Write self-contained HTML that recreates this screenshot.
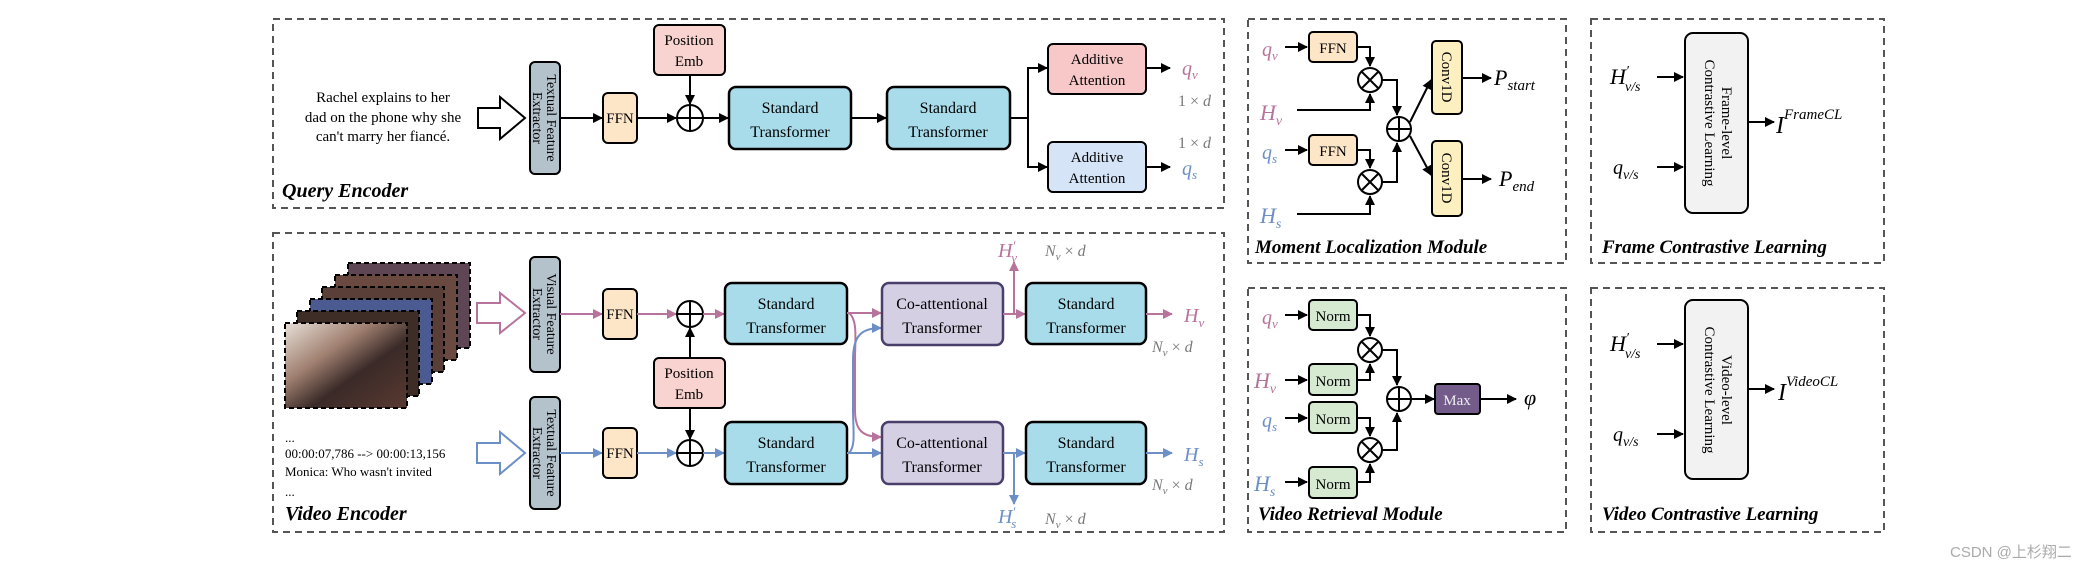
<!DOCTYPE html>
<html><head><meta charset="utf-8"><style>
html,body{margin:0;padding:0;background:#fff;}
svg{display:block;}
text{font-family:"Liberation Serif",serif;}
</style></head><body>
<svg width="2100" height="568" viewBox="0 0 2100 568" xmlns="http://www.w3.org/2000/svg">
<defs>
<marker id="ak" markerWidth="10" markerHeight="10" refX="9" refY="5" orient="auto" markerUnits="userSpaceOnUse"><path d="M0,0 L10,5 L0,10 z" fill="#000"/></marker>
<marker id="ap" markerWidth="10" markerHeight="10" refX="9" refY="5" orient="auto" markerUnits="userSpaceOnUse"><path d="M0,0 L10,5 L0,10 z" fill="#b7739b"/></marker>
<marker id="ab" markerWidth="10" markerHeight="10" refX="9" refY="5" orient="auto" markerUnits="userSpaceOnUse"><path d="M0,0 L10,5 L0,10 z" fill="#6c8fc6"/></marker>
<linearGradient id="fr" x1="0" y1="0" x2="1" y2="1"><stop offset="0" stop-color="#e8e0d8"/><stop offset="0.35" stop-color="#a08070"/><stop offset="0.6" stop-color="#3a2a28"/><stop offset="1" stop-color="#5a3a30"/></linearGradient>
</defs>

<g fill="none" stroke="#555" stroke-width="2" stroke-dasharray="7,5">
<rect x="273" y="19" width="951" height="189"/>
<rect x="273" y="233" width="951" height="299"/>
<rect x="1248" y="19" width="318" height="244"/>
<rect x="1591" y="19" width="293" height="244"/>
<rect x="1248" y="288" width="318" height="244"/>
<rect x="1591" y="288" width="293" height="244"/>
</g>

<!-- Query Encoder -->
<g font-size="15" text-anchor="middle">
<text x="383" y="102">Rachel explains to her</text>
<text x="383" y="122">dad on the phone why she</text>
<text x="383" y="141">can't marry her fiancé.</text>
</g>
<path d="M478,108 L500,108 L500,97 L525,118 L500,139 L500,128 L478,128 z" fill="#fff" stroke="#000" stroke-width="2"/>
<rect x="530" y="62" width="30" height="112" rx="5" fill="#b4c2cc" stroke="#000" stroke-width="2"/>
<text transform="translate(545,118) rotate(90)" font-size="14" text-anchor="middle"><tspan x="0" dy="-2">Textual Feature</tspan><tspan x="0" dy="14">Extractor</tspan></text>
<line x1="560" y1="118" x2="602" y2="118" stroke="#000" stroke-width="2" marker-end="url(#ak)"/>
<rect x="603" y="93" width="34" height="50" rx="5" fill="#fde6c8" stroke="#000" stroke-width="2"/>
<text x="620" y="123" font-size="15" text-anchor="middle">FFN</text>
<line x1="637" y1="118" x2="676" y2="118" stroke="#000" stroke-width="2" marker-end="url(#ak)"/>
<rect x="654" y="25" width="71" height="50" rx="5" fill="#f8d3cf" stroke="#000" stroke-width="2"/>
<text x="689" y="45" font-size="15" text-anchor="middle">Position</text>
<text x="689" y="66" font-size="15" text-anchor="middle">Emb</text>
<line x1="690" y1="75" x2="690" y2="104" stroke="#000" stroke-width="2" marker-end="url(#ak)"/>
<circle cx="690" cy="118" r="13" fill="#fff" stroke="#000" stroke-width="2"/>
<path d="M677,118 H703 M690,105 V131" stroke="#000" stroke-width="2"/>
<line x1="703" y1="118" x2="728" y2="118" stroke="#000" stroke-width="2" marker-end="url(#ak)"/>
<rect x="729" y="87" width="122" height="62" rx="7" fill="#a8dcea" stroke="#000" stroke-width="2.5"/>
<text x="790" y="113" font-size="16" text-anchor="middle">Standard</text>
<text x="790" y="137" font-size="16" text-anchor="middle">Transformer</text>
<line x1="851" y1="118" x2="886" y2="118" stroke="#000" stroke-width="2" marker-end="url(#ak)"/>
<rect x="887" y="87" width="123" height="62" rx="7" fill="#a8dcea" stroke="#000" stroke-width="2.5"/>
<text x="948" y="113" font-size="16" text-anchor="middle">Standard</text>
<text x="948" y="137" font-size="16" text-anchor="middle">Transformer</text>
<path d="M1010,118 H1028 V68 H1047 M1028,118 V167 H1047" fill="none" stroke="#000" stroke-width="2"/>
<line x1="1040" y1="68" x2="1047" y2="68" stroke="#000" stroke-width="2" marker-end="url(#ak)"/>
<line x1="1040" y1="167" x2="1047" y2="167" stroke="#000" stroke-width="2" marker-end="url(#ak)"/>
<rect x="1048" y="44" width="98" height="50" rx="5" fill="#f8c8c8" stroke="#000" stroke-width="2"/>
<text x="1097" y="64" font-size="15" text-anchor="middle">Additive</text>
<text x="1097" y="85" font-size="15" text-anchor="middle">Attention</text>
<rect x="1048" y="142" width="98" height="50" rx="5" fill="#d6e4f8" stroke="#000" stroke-width="2"/>
<text x="1097" y="162" font-size="15" text-anchor="middle">Additive</text>
<text x="1097" y="183" font-size="15" text-anchor="middle">Attention</text>
<line x1="1146" y1="68" x2="1170" y2="68" stroke="#000" stroke-width="2" marker-end="url(#ak)"/>
<line x1="1146" y1="167" x2="1170" y2="167" stroke="#000" stroke-width="2" marker-end="url(#ak)"/>
<text x="1182" y="75" font-size="20" font-style="italic" fill="#b7739b">q<tspan font-size="13" dy="4">v</tspan></text>
<text x="1178" y="106" font-size="16" fill="#777">1 × <tspan font-style="italic">d</tspan></text>
<text x="1178" y="148" font-size="16" fill="#777">1 × <tspan font-style="italic">d</tspan></text>
<text x="1182" y="175" font-size="20" font-style="italic" fill="#6c8fc6">q<tspan font-size="13" dy="4">s</tspan></text>
<text x="282" y="197" font-size="20" font-weight="bold" font-style="italic">Query Encoder</text>

<!-- Video Encoder -->
<g stroke="#000" stroke-width="2" stroke-dasharray="5,3">
<rect x="348" y="263" width="122" height="85" fill="#5e4654"/>
<rect x="335" y="275" width="122" height="85" fill="#6a4a40"/>
<rect x="322" y="287" width="122" height="85" fill="#5a3e38"/>
<rect x="310" y="299" width="122" height="85" fill="#4b5a90"/>
<rect x="297" y="311" width="122" height="85" fill="#3e2c26"/>
<rect x="285" y="323" width="122" height="85" fill="url(#fr)"/>
</g>
<path d="M477,303 L500,303 L500,293 L525,313 L500,333 L500,323 L477,323 z" fill="#fff" stroke="#b7739b" stroke-width="2"/>
<rect x="530" y="257" width="30" height="115" rx="5" fill="#b4c2cc" stroke="#000" stroke-width="2"/>
<text transform="translate(545,314) rotate(90)" font-size="14" text-anchor="middle"><tspan x="0" dy="-2">Visual Feature</tspan><tspan x="0" dy="14">Extractor</tspan></text>
<line x1="560" y1="314" x2="602" y2="314" stroke="#b7739b" stroke-width="2" marker-end="url(#ap)"/>
<rect x="603" y="289" width="34" height="50" rx="5" fill="#fde6c8" stroke="#000" stroke-width="2"/>
<text x="620" y="319" font-size="15" text-anchor="middle">FFN</text>
<line x1="637" y1="314" x2="676" y2="314" stroke="#b7739b" stroke-width="2" marker-end="url(#ap)"/>
<circle cx="690" cy="314" r="13" fill="#fff" stroke="#000" stroke-width="2"/>
<path d="M677,314 H703 M690,301 V327" stroke="#000" stroke-width="2"/>
<rect x="654" y="358" width="71" height="50" rx="5" fill="#f8d3cf" stroke="#000" stroke-width="2"/>
<text x="689" y="378" font-size="15" text-anchor="middle">Position</text>
<text x="689" y="399" font-size="15" text-anchor="middle">Emb</text>
<line x1="690" y1="358" x2="690" y2="328" stroke="#000" stroke-width="2" marker-end="url(#ak)"/>
<line x1="690" y1="408" x2="690" y2="439" stroke="#000" stroke-width="2" marker-end="url(#ak)"/>
<line x1="703" y1="314" x2="724" y2="314" stroke="#b7739b" stroke-width="2" marker-end="url(#ap)"/>
<rect x="725" y="283" width="122" height="61" rx="7" fill="#a8dcea" stroke="#000" stroke-width="2.5"/>
<text x="786" y="309" font-size="16" text-anchor="middle">Standard</text>
<text x="786" y="333" font-size="16" text-anchor="middle">Transformer</text>

<g font-size="13">
<text x="285" y="442">...</text>
<text x="285" y="458">00:00:07,786 --&gt; 00:00:13,156</text>
<text x="285" y="476">Monica: Who wasn't invited</text>
<text x="285" y="496">...</text>
</g>
<path d="M477,443 L500,443 L500,432 L525,453 L500,474 L500,463 L477,463 z" fill="#fff" stroke="#6c8fc6" stroke-width="2"/>
<rect x="530" y="397" width="30" height="112" rx="5" fill="#b4c2cc" stroke="#000" stroke-width="2"/>
<text transform="translate(545,453) rotate(90)" font-size="14" text-anchor="middle"><tspan x="0" dy="-2">Textual Feature</tspan><tspan x="0" dy="14">Extractor</tspan></text>
<line x1="560" y1="453" x2="602" y2="453" stroke="#6c8fc6" stroke-width="2" marker-end="url(#ab)"/>
<rect x="603" y="428" width="34" height="50" rx="5" fill="#fde6c8" stroke="#000" stroke-width="2"/>
<text x="620" y="458" font-size="15" text-anchor="middle">FFN</text>
<line x1="637" y1="453" x2="676" y2="453" stroke="#6c8fc6" stroke-width="2" marker-end="url(#ab)"/>
<circle cx="690" cy="453" r="13" fill="#fff" stroke="#000" stroke-width="2"/>
<path d="M677,453 H703 M690,440 V466" stroke="#000" stroke-width="2"/>
<line x1="703" y1="453" x2="724" y2="453" stroke="#6c8fc6" stroke-width="2" marker-end="url(#ab)"/>
<rect x="725" y="422" width="122" height="62" rx="7" fill="#a8dcea" stroke="#000" stroke-width="2.5"/>
<text x="786" y="448" font-size="16" text-anchor="middle">Standard</text>
<text x="786" y="472" font-size="16" text-anchor="middle">Transformer</text>

<line x1="847" y1="313" x2="881" y2="313" stroke="#b7739b" stroke-width="2" marker-end="url(#ap)"/>
<line x1="847" y1="453" x2="881" y2="453" stroke="#6c8fc6" stroke-width="2" marker-end="url(#ab)"/>
<path d="M849,313 C858,320 855,340 855,360 L855,410 C855,430 862,437 881,437" fill="none" stroke="#b7739b" stroke-width="2" marker-end="url(#ap)"/>
<path d="M849,453 C856,446 853,430 853,410 L853,360 C853,335 862,328 881,328" fill="none" stroke="#6c8fc6" stroke-width="2" marker-end="url(#ab)"/>

<rect x="882" y="283" width="121" height="62" rx="7" fill="#d4cfe3" stroke="#4a3f6b" stroke-width="2.5"/>
<text x="942" y="309" font-size="16" text-anchor="middle">Co-attentional</text>
<text x="942" y="333" font-size="16" text-anchor="middle">Transformer</text>
<rect x="882" y="422" width="121" height="62" rx="7" fill="#d4cfe3" stroke="#4a3f6b" stroke-width="2.5"/>
<text x="942" y="448" font-size="16" text-anchor="middle">Co-attentional</text>
<text x="942" y="472" font-size="16" text-anchor="middle">Transformer</text>

<line x1="1003" y1="314" x2="1025" y2="314" stroke="#b7739b" stroke-width="2" marker-end="url(#ap)"/>
<line x1="1014" y1="314" x2="1014" y2="262" stroke="#b7739b" stroke-width="2" marker-end="url(#ap)"/>
<line x1="1003" y1="453" x2="1025" y2="453" stroke="#6c8fc6" stroke-width="2" marker-end="url(#ab)"/>
<line x1="1014" y1="453" x2="1014" y2="504" stroke="#6c8fc6" stroke-width="2" marker-end="url(#ab)"/>

<rect x="1026" y="283" width="120" height="61" rx="7" fill="#a8dcea" stroke="#000" stroke-width="2.5"/>
<text x="1086" y="309" font-size="16" text-anchor="middle">Standard</text>
<text x="1086" y="333" font-size="16" text-anchor="middle">Transformer</text>
<rect x="1026" y="422" width="120" height="62" rx="7" fill="#a8dcea" stroke="#000" stroke-width="2.5"/>
<text x="1086" y="448" font-size="16" text-anchor="middle">Standard</text>
<text x="1086" y="472" font-size="16" text-anchor="middle">Transformer</text>
<line x1="1146" y1="314" x2="1172" y2="314" stroke="#b7739b" stroke-width="2" marker-end="url(#ap)"/>
<line x1="1146" y1="453" x2="1172" y2="453" stroke="#6c8fc6" stroke-width="2" marker-end="url(#ab)"/>

<text x="998" y="257" font-size="20" font-style="italic" fill="#b7739b">H<tspan font-size="13" dy="-7">′</tspan><tspan font-size="13" dx="-4" dy="12">v</tspan></text>
<text x="1045" y="256" font-size="16" fill="#777"><tspan font-style="italic">N</tspan><tspan font-size="11" font-style="italic" dy="4">v</tspan><tspan dy="-4"> × </tspan><tspan font-style="italic">d</tspan></text>
<text x="1184" y="322" font-size="20" font-style="italic" fill="#b7739b">H<tspan font-size="13" dy="5">v</tspan></text>
<text x="1152" y="352" font-size="16" fill="#777"><tspan font-style="italic">N</tspan><tspan font-size="11" font-style="italic" dy="4">v</tspan><tspan dy="-4"> × </tspan><tspan font-style="italic">d</tspan></text>
<text x="1184" y="461" font-size="20" font-style="italic" fill="#6c8fc6">H<tspan font-size="13" dy="5">s</tspan></text>
<text x="1152" y="490" font-size="16" fill="#777"><tspan font-style="italic">N</tspan><tspan font-size="11" font-style="italic" dy="4">v</tspan><tspan dy="-4"> × </tspan><tspan font-style="italic">d</tspan></text>
<text x="998" y="523" font-size="20" font-style="italic" fill="#6c8fc6">H<tspan font-size="13" dy="-7">′</tspan><tspan font-size="13" dx="-4" dy="12">s</tspan></text>
<text x="1045" y="524" font-size="16" fill="#777"><tspan font-style="italic">N</tspan><tspan font-size="11" font-style="italic" dy="4">v</tspan><tspan dy="-4"> × </tspan><tspan font-style="italic">d</tspan></text>
<text x="285" y="520" font-size="20" font-weight="bold" font-style="italic">Video Encoder</text>

<!-- Moment Localization -->
<text x="1262" y="56" font-size="20" font-style="italic" fill="#b7739b">q<tspan font-size="13" dy="4">v</tspan></text>
<line x1="1285" y1="47" x2="1307" y2="47" stroke="#000" stroke-width="2" marker-end="url(#ak)"/>
<rect x="1309" y="32" width="48" height="30" rx="4" fill="#fde6c8" stroke="#000" stroke-width="2"/>
<text x="1333" y="53" font-size="15" text-anchor="middle">FFN</text>
<path d="M1357,47 H1370 V66" fill="none" stroke="#000" stroke-width="2" marker-end="url(#ak)"/>
<text x="1260" y="120" font-size="22" font-style="italic" fill="#b7739b">H<tspan font-size="14" dy="5">v</tspan></text>
<path d="M1297,110 H1370 V94" fill="none" stroke="#000" stroke-width="2" marker-end="url(#ak)"/>
<circle cx="1370" cy="80" r="12" fill="#fff" stroke="#000" stroke-width="2"/>
<path d="M1362,72 L1378,88 M1378,72 L1362,88" stroke="#000" stroke-width="2"/>
<path d="M1382,80 H1397 V115" fill="none" stroke="#000" stroke-width="2" marker-end="url(#ak)"/>
<text x="1262" y="159" font-size="20" font-style="italic" fill="#6c8fc6">q<tspan font-size="13" dy="4">s</tspan></text>
<line x1="1285" y1="150" x2="1307" y2="150" stroke="#000" stroke-width="2" marker-end="url(#ak)"/>
<rect x="1309" y="135" width="48" height="30" rx="4" fill="#fde6c8" stroke="#000" stroke-width="2"/>
<text x="1333" y="156" font-size="15" text-anchor="middle">FFN</text>
<path d="M1357,150 H1370 V168" fill="none" stroke="#000" stroke-width="2" marker-end="url(#ak)"/>
<text x="1260" y="223" font-size="22" font-style="italic" fill="#6c8fc6">H<tspan font-size="14" dy="5">s</tspan></text>
<path d="M1297,214 H1370 V196" fill="none" stroke="#000" stroke-width="2" marker-end="url(#ak)"/>
<circle cx="1370" cy="182" r="12" fill="#fff" stroke="#000" stroke-width="2"/>
<path d="M1362,174 L1378,190 M1378,174 L1362,190" stroke="#000" stroke-width="2"/>
<path d="M1382,182 H1397 V143" fill="none" stroke="#000" stroke-width="2" marker-end="url(#ak)"/>
<circle cx="1399" cy="129" r="12" fill="#fff" stroke="#000" stroke-width="2"/>
<path d="M1387,129 H1411 M1399,117 V141" stroke="#000" stroke-width="2"/>
<line x1="1410" y1="122" x2="1431" y2="80" stroke="#000" stroke-width="2" marker-end="url(#ak)"/>
<line x1="1410" y1="136" x2="1431" y2="175" stroke="#000" stroke-width="2" marker-end="url(#ak)"/>
<rect x="1432" y="41" width="30" height="73" rx="4" fill="#fdf0c0" stroke="#000" stroke-width="2"/>
<text transform="translate(1447,77) rotate(90)" font-size="15" text-anchor="middle" dy="5">Conv1D</text>
<rect x="1432" y="141" width="30" height="75" rx="4" fill="#fdf0c0" stroke="#000" stroke-width="2"/>
<text transform="translate(1447,178) rotate(90)" font-size="15" text-anchor="middle" dy="5">Conv1D</text>
<line x1="1462" y1="78" x2="1491" y2="78" stroke="#000" stroke-width="2" marker-end="url(#ak)"/>
<line x1="1462" y1="179" x2="1491" y2="179" stroke="#000" stroke-width="2" marker-end="url(#ak)"/>
<text x="1494" y="85" font-size="22" font-style="italic">P<tspan font-size="15" dy="5">start</tspan></text>
<text x="1499" y="186" font-size="22" font-style="italic">P<tspan font-size="15" dy="5">end</tspan></text>
<text x="1255" y="253" font-size="19" font-weight="bold" font-style="italic">Moment Localization Module</text>

<!-- Frame CL -->
<rect x="1685" y="33" width="63" height="180" rx="8" fill="#f2f2f2" stroke="#000" stroke-width="2"/>
<text transform="translate(1716,123) rotate(90)" font-size="15" text-anchor="middle"><tspan x="0" dy="-6">Frame-level</tspan><tspan x="0" dy="17">Contrastive Learning</tspan></text>
<text x="1610" y="84" font-size="22" font-style="italic">H<tspan font-size="14" dy="-9">′</tspan><tspan font-size="14" dx="-4" dy="16">v/s</tspan></text>
<line x1="1657" y1="77" x2="1683" y2="77" stroke="#000" stroke-width="2" marker-end="url(#ak)"/>
<text x="1613" y="174" font-size="20" font-style="italic">q<tspan font-size="14" dy="5">v/s</tspan></text>
<line x1="1657" y1="167" x2="1683" y2="167" stroke="#000" stroke-width="2" marker-end="url(#ak)"/>
<line x1="1748" y1="122" x2="1774" y2="122" stroke="#000" stroke-width="2" marker-end="url(#ak)"/>
<text x="1776" y="133" font-size="24" font-style="italic">I<tspan font-size="15" dy="-14">FrameCL</tspan></text>
<text x="1602" y="253" font-size="19" font-weight="bold" font-style="italic">Frame Contrastive Learning</text>

<!-- Video Retrieval -->
<text x="1262" y="324" font-size="20" font-style="italic" fill="#b7739b">q<tspan font-size="13" dy="4">v</tspan></text>
<line x1="1285" y1="315" x2="1307" y2="315" stroke="#000" stroke-width="2" marker-end="url(#ak)"/>
<rect x="1309" y="300" width="48" height="30" rx="4" fill="#d6ead2" stroke="#000" stroke-width="2"/>
<text x="1333" y="321" font-size="15" text-anchor="middle">Norm</text>
<path d="M1357,315 H1370 V336" fill="none" stroke="#000" stroke-width="2" marker-end="url(#ak)"/>
<text x="1254" y="388" font-size="22" font-style="italic" fill="#b7739b">H<tspan font-size="14" dy="5">v</tspan></text>
<line x1="1285" y1="380" x2="1307" y2="380" stroke="#000" stroke-width="2" marker-end="url(#ak)"/>
<rect x="1309" y="364" width="48" height="31" rx="4" fill="#d6ead2" stroke="#000" stroke-width="2"/>
<text x="1333" y="386" font-size="15" text-anchor="middle">Norm</text>
<path d="M1357,380 H1370 V364" fill="none" stroke="#000" stroke-width="2" marker-end="url(#ak)"/>
<circle cx="1370" cy="350" r="12" fill="#fff" stroke="#000" stroke-width="2"/>
<path d="M1362,342 L1378,358 M1378,342 L1362,358" stroke="#000" stroke-width="2"/>
<path d="M1382,350 H1397 V385" fill="none" stroke="#000" stroke-width="2" marker-end="url(#ak)"/>
<text x="1262" y="427" font-size="20" font-style="italic" fill="#6c8fc6">q<tspan font-size="13" dy="4">s</tspan></text>
<line x1="1285" y1="418" x2="1307" y2="418" stroke="#000" stroke-width="2" marker-end="url(#ak)"/>
<rect x="1309" y="402" width="48" height="31" rx="4" fill="#d6ead2" stroke="#000" stroke-width="2"/>
<text x="1333" y="424" font-size="15" text-anchor="middle">Norm</text>
<path d="M1357,418 H1370 V436" fill="none" stroke="#000" stroke-width="2" marker-end="url(#ak)"/>
<text x="1254" y="491" font-size="22" font-style="italic" fill="#6c8fc6">H<tspan font-size="14" dy="5">s</tspan></text>
<line x1="1285" y1="482" x2="1307" y2="482" stroke="#000" stroke-width="2" marker-end="url(#ak)"/>
<rect x="1309" y="467" width="48" height="31" rx="4" fill="#d6ead2" stroke="#000" stroke-width="2"/>
<text x="1333" y="489" font-size="15" text-anchor="middle">Norm</text>
<path d="M1357,482 H1370 V464" fill="none" stroke="#000" stroke-width="2" marker-end="url(#ak)"/>
<circle cx="1370" cy="450" r="12" fill="#fff" stroke="#000" stroke-width="2"/>
<path d="M1362,442 L1378,458 M1378,442 L1362,458" stroke="#000" stroke-width="2"/>
<path d="M1382,450 H1397 V413" fill="none" stroke="#000" stroke-width="2" marker-end="url(#ak)"/>
<circle cx="1399" cy="399" r="12" fill="#fff" stroke="#000" stroke-width="2"/>
<path d="M1387,399 H1411 M1399,387 V411" stroke="#000" stroke-width="2"/>
<line x1="1411" y1="399" x2="1434" y2="399" stroke="#000" stroke-width="2" marker-end="url(#ak)"/>
<rect x="1435" y="384" width="45" height="30" rx="3" fill="#735c8a" stroke="#000" stroke-width="2"/>
<text x="1457" y="405" font-size="15" text-anchor="middle" fill="#eee">Max</text>
<line x1="1480" y1="399" x2="1516" y2="399" stroke="#000" stroke-width="2" marker-end="url(#ak)"/>
<text x="1524" y="405" font-size="22" font-style="italic">φ</text>
<text x="1258" y="520" font-size="19" font-weight="bold" font-style="italic">Video Retrieval Module</text>

<!-- Video CL -->
<rect x="1685" y="300" width="63" height="179" rx="8" fill="#f2f2f2" stroke="#000" stroke-width="2"/>
<text transform="translate(1716,390) rotate(90)" font-size="15" text-anchor="middle"><tspan x="0" dy="-6">Video-level</tspan><tspan x="0" dy="17">Contrastive Learning</tspan></text>
<text x="1610" y="351" font-size="22" font-style="italic">H<tspan font-size="14" dy="-9">′</tspan><tspan font-size="14" dx="-4" dy="16">v/s</tspan></text>
<line x1="1657" y1="344" x2="1683" y2="344" stroke="#000" stroke-width="2" marker-end="url(#ak)"/>
<text x="1613" y="441" font-size="20" font-style="italic">q<tspan font-size="14" dy="5">v/s</tspan></text>
<line x1="1657" y1="434" x2="1683" y2="434" stroke="#000" stroke-width="2" marker-end="url(#ak)"/>
<line x1="1748" y1="389" x2="1774" y2="389" stroke="#000" stroke-width="2" marker-end="url(#ak)"/>
<text x="1778" y="400" font-size="24" font-style="italic">I<tspan font-size="15" dy="-14">VideoCL</tspan></text>
<text x="1602" y="520" font-size="19" font-weight="bold" font-style="italic">Video Contrastive Learning</text>

<text x="1950" y="557" font-size="15" fill="#aaa" style="font-family:'Liberation Sans','Noto Sans CJK SC',sans-serif">CSDN @上杉翔二</text>
</svg>
</body></html>
